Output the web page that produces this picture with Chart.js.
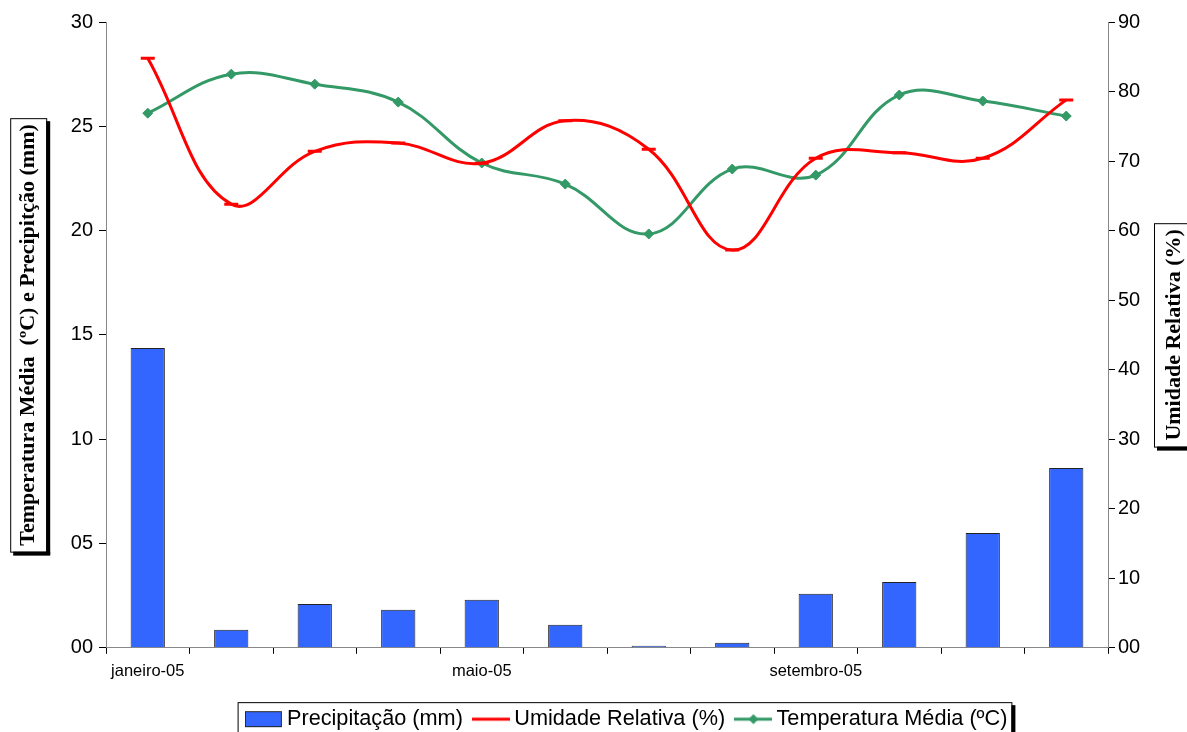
<!DOCTYPE html>
<html><head><meta charset="utf-8">
<script src="https://cdn.jsdelivr.net/npm/chart.js@4/dist/chart.umd.min.js"></script>
<style>html,body{margin:0;padding:0;background:#fff;overflow:hidden}#wrap{width:1187px;height:732px;position:relative}</style>
</head><body><div id="wrap"><canvas id="c"></canvas></div>
<script>
const categories = ['janeiro-05','fevereiro-05','março-05','abril-05','maio-05','junho-05','julho-05','agosto-05','setembro-05','outubro-05','novembro-05','dezembro-05'];
const precipitacao = [14.37, 0.86, 2.1, 1.82, 2.3, 1.1, 0.1, 0.24, 2.59, 3.16, 5.5, 8.62];
const umidade = [84.8, 63.8, 71.4, 72.6, 69.7, 75.8, 71.7, 57.2, 70.4, 71.2, 70.4, 78.8];
const temperatura = [25.63, 27.5, 27.02, 26.16, 23.24, 22.23, 19.84, 22.95, 22.66, 26.5, 26.21, 25.49];
const leftTickLabels = ['00','05','10','15','20','25','30'];
const rightTickLabels = ['00','10','20','30','40','50','60','70','80','90'];
const shownXLabels = ['janeiro-05','maio-05','setembro-05'];
const leftTitle = 'Temperatura Média  (ºC) e Precipitção (mm)';
const rightTitle = 'Umidade Relativa (%)';

const BLUE = '#3366FF', RED = '#FF0000', GREEN = '#339966';
const TITLE_FONT = {family:'Liberation Serif', size:22, weight:'bold'};
const LEG_FONT = 21.7, LEG_PAD = 16;

function sym(kind){
  const c = document.createElement('canvas'); c.width = 38; c.height = 20;
  const g = c.getContext('2d');
  if (kind === 'bar'){ g.fillStyle = BLUE; g.fillRect(0.5,2.5,36,15); g.strokeStyle='#222'; g.lineWidth=1; g.strokeRect(0.5,2.5,36,15); }
  else if (kind === 'red'){ g.strokeStyle = RED; g.lineWidth = 3; g.beginPath(); g.moveTo(0,10); g.lineTo(38,10); g.stroke(); }
  else { g.strokeStyle = GREEN; g.lineWidth = 3; g.beginPath(); g.moveTo(0,10); g.lineTo(38,10); g.stroke();
    g.fillStyle = GREEN; g.beginPath(); g.moveTo(19,5); g.lineTo(24,10); g.lineTo(19,15); g.lineTo(14,10); g.closePath(); g.fill(); }
  return c;
}
const syms = [sym('bar'), sym('red'), sym('green')];

function shadowBox(ctx,x,y,w,h){
  ctx.save();
  ctx.fillStyle = '#000';
  ctx.fillRect(x+w, y+3, 4, h);
  ctx.fillRect(x+3, y+h, w+1, 4);
  ctx.strokeStyle = '#000'; ctx.lineWidth = 1;
  ctx.strokeRect(x+0.5, y+0.5, w, h);
  ctx.restore();
}

const boxes = {
  id:'boxes',
  afterLayout(chart){
    chart.legend.left += 36; chart.legend.right += 36;
  },
  afterDraw(chart){
    const ctx = chart.ctx; const ca = chart.chartArea;
    const cy = (ca.top + ca.bottom)/2;
    ctx.save();
    ctx.font = 'bold 22px "Liberation Serif"';
    const wl = ctx.measureText(leftTitle).width;
    const wr = ctx.measureText(rightTitle).width;
    const rcx = 1173;
    ctx.fillStyle = '#000'; ctx.textAlign = 'center'; ctx.textBaseline = 'middle';
    ctx.translate(rcx, cy); ctx.rotate(-Math.PI/2);
    ctx.fillText(rightTitle, 0, 1);
    ctx.restore();
    const ys = chart.scales.y;
    const lcx = ys.left + 15 + 13.2;
    shadowBox(ctx, lcx-18, cy - wl/2 - 6, 36, wl + 12);
    shadowBox(ctx, 1154, cy - wr/2 - 6, 40, wr + 12);
    const hb = chart.legend.legendHitBoxes;
    if (hb && hb.length){
      const l = hb[0].left - 14, last = hb[hb.length-1];
      const r = last.left + last.width + 4;
      const mid = chart.legend.top + LEG_PAD + LEG_FONT/2;
      const t = mid - 17;
      shadowBox(ctx, l, t, r - l, 740 - t);
    }
  }
};

new Chart(document.getElementById('c'), {
  type:'bar',
  data:{
    labels: categories,
    datasets:[
      {type:'bar', label:'Precipitação (mm)', data:precipitacao, yAxisID:'y', backgroundColor:BLUE, borderColor:'#222', borderWidth:1, barPercentage:0.41, categoryPercentage:1},
      {type:'line', label:'Umidade Relativa (%)', data:umidade, yAxisID:'y1', borderColor:RED, borderWidth:3, tension:0.4, fill:false,
        pointStyle:'line', pointRadius:7, pointBorderWidth:3, pointBorderColor:RED, pointBackgroundColor:RED},
      {type:'line', label:'Temperatura Média (ºC)', data:temperatura, yAxisID:'y', borderColor:GREEN, borderWidth:3, tension:0.4, fill:false,
        pointStyle:'rectRot', pointRadius:5, pointBorderWidth:1, pointBorderColor:GREEN, pointBackgroundColor:GREEN}
    ]
  },
  options:{
    responsive:true, maintainAspectRatio:false, animation:false,
    layout:{padding:{top:22, left:0, right:0, bottom:-8}},
    plugins:{
      tooltip:{enabled:false},
      legend:{position:'bottom', labels:{
        font:{family:'Liberation Sans', size:LEG_FONT}, color:'#000', padding:LEG_PAD, usePointStyle:true, pointStyleWidth:24.5,
        generateLabels(chart){
          return chart.data.datasets.map((d,i)=>({text:d.label, pointStyle:syms[i], fillStyle:'transparent', strokeStyle:'transparent', lineWidth:0, datasetIndex:i, hidden:false, fontColor:'#000'}));
        }
      }}
    },
    scales:{
      x:{
        grid:{display:true, drawOnChartArea:false, drawTicks:true, tickLength:6, color:'#000', offset:true},
        border:{display:true, color:'#888', width:1},
        ticks:{autoSkip:false, maxRotation:0, minRotation:0, padding:8, color:'#000', font:{family:'Liberation Sans', size:16.5},
          callback(v,i){ const lab = categories[i]; return shownXLabels.includes(lab) ? lab : ''; }},
        afterFit(s){ s.height = 44.5; s.paddingLeft = 0; s.paddingRight = 0; }
      },
      y:{
        position:'left', min:0, max:30,
        grid:{display:true, drawOnChartArea:false, drawTicks:true, tickLength:7, color:'#000'},
        border:{display:true, color:'#888', width:1},
        ticks:{stepSize:5, padding:6, color:'#000', font:{family:'Liberation Sans', size:20}, callback(v,i){ return leftTickLabels[i]; }},
        title:{display:true, text:leftTitle, color:'#000', font:TITLE_FONT, padding:{top:15, bottom:0}},
        afterFit(s){ s.width = 106; s.paddingTop = 0; s.paddingBottom = 0; }
      },
      y1:{
        position:'right', min:0, max:90,
        grid:{display:true, drawOnChartArea:false, drawTicks:true, tickLength:7, color:'#000'},
        border:{display:true, color:'#888', width:1},
        ticks:{stepSize:10, padding:3, color:'#000', font:{family:'Liberation Sans', size:20}, callback(v,i){ return rightTickLabels[i]; }},
        title:{display:false, text:rightTitle},
        afterFit(s){ s.width = 79; s.paddingTop = 0; s.paddingBottom = 0; }
      }
    }
  },
  plugins:[boxes]
});
</script></body></html>
